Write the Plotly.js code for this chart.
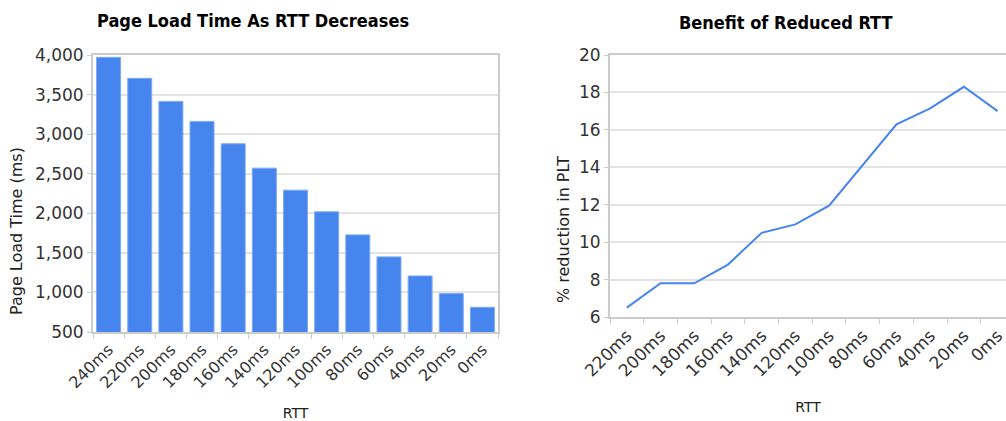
<!DOCTYPE html>
<html>
<head>
<meta charset="utf-8">
<script src="https://cdn.plot.ly/plotly-3.0.1.min.js"></script>
<style>html,body{margin:0;padding:0;background:#fff;overflow:hidden}#chart{width:1006px;height:421px}</style>
</head>
<body>
<div id="chart"></div>
<script>
const rttCategories = ["240ms","220ms","200ms","180ms","160ms","140ms","120ms","100ms","80ms","60ms","40ms","20ms","0ms"];
const pageLoadTime = [3970, 3705, 3414, 3161, 2878, 2570, 2292, 2018, 1727, 1449, 1208, 985, 812];
const benefitCategories = ["220ms","200ms","180ms","160ms","140ms","120ms","100ms","80ms","60ms","40ms","20ms","0ms"];
const pctReduction = [6.5, 7.8, 7.8, 8.8, 10.5, 10.95, 11.95, 14.1, 16.3, 17.15, 18.3, 17.0];
const leftTitle = "Page Load Time As RTT Decreases";
const rightTitle = "Benefit of Reduced RTT";
const leftYTitle = "Page Load Time (ms)";
const rightYTitle = "% reduction in PLT";
const xTitle = "RTT";

const W = 1006, H = 421;
const px = v => v / W, py = v => 1 - v / H;
const font = "DejaVu Sans, sans-serif";
const titleFont = "DejaVu Sans Condensed, DejaVu Sans, sans-serif";
const gridC = "#e3e3e3", axC = "#cccccc", tickFontC = "#333333";

const traces = [
  {type: "bar", x: rttCategories, y: pageLoadTime, xaxis: "x", yaxis: "y",
   marker: {color: "#4684ee", line: {color: "#7ea8f2", width: 1}}, hoverinfo: "x+y"},
  {type: "scatter", mode: "lines", x: benefitCategories, y: pctReduction, xaxis: "x2", yaxis: "y2",
   line: {color: "#4684ee", width: 2}}
];

const xCommon = {type: "category", tickangle: -45, ticks: "outside", ticklen: 5, tickcolor: axC,
  tickson: "boundaries", showgrid: false, showline: true, linecolor: axC, linewidth: 2,
  tickfont: {family: font, size: 16, color: tickFontC}, automargin: false, zeroline: false};
const yCommon = {showgrid: true, gridcolor: gridC, gridwidth: 2, ticks: "outside", ticklen: 4, tickcolor: axC,
  showline: true, linecolor: axC, linewidth: 2, zeroline: false,
  tickfont: {family: font, size: 17, color: tickFontC}, automargin: false};

const layout = {
  width: W, height: H, margin: {l: 0, r: 0, t: 0, b: 0}, showlegend: false,
  paper_bgcolor: "#fff", plot_bgcolor: "#fff", bargap: 0.23,
  xaxis: Object.assign({}, xCommon, {domain: [px(93), px(498)], anchor: "y", range: [-0.5, 12.5], mirror: true,
    title: {text: xTitle, font: {family: font, size: 14, color: "#222"}, standoff: 18}}),
  yaxis: Object.assign({}, yCommon, {domain: [py(332), py(55)], anchor: "x", range: [500, 4000], dtick: 500, tick0: 500,
    tickformat: ",", mirror: true}),
  xaxis2: Object.assign({}, xCommon, {domain: [px(610), 1], anchor: "y2", range: [-0.5, 11.25], mirror: true,
    tickfont: {family: font, size: 17, color: tickFontC},
    title: {text: xTitle, font: {family: font, size: 14, color: "#222"}, standoff: 23}}),
  yaxis2: Object.assign({}, yCommon, {domain: [py(317), py(55)], anchor: "x2", range: [6, 20], dtick: 2, tick0: 6}),
  annotations: [
    {text: "<b>" + leftTitle + "</b>", xref: "paper", yref: "paper", x: px(253), y: py(21),
     xanchor: "center", yanchor: "middle", showarrow: false, font: {family: titleFont, size: 18, color: "#000"}},
    {text: "<b>" + rightTitle + "</b>", xref: "paper", yref: "paper", x: px(786), y: py(23),
     xanchor: "center", yanchor: "middle", showarrow: false, font: {family: titleFont, size: 18, color: "#000"}},
    {text: leftYTitle, xref: "paper", yref: "paper", x: px(16), y: py(231), textangle: -90,
     xanchor: "center", yanchor: "middle", showarrow: false, font: {family: font, size: 16, color: "#222"}},
    {text: rightYTitle, xref: "paper", yref: "paper", x: px(563), y: py(230), textangle: -90,
     xanchor: "center", yanchor: "middle", showarrow: false, font: {family: font, size: 16, color: "#222"}}
  ]
};

Plotly.newPlot("chart", traces, layout, {displayModeBar: false, staticPlot: true});
</script>
</body>
</html>
